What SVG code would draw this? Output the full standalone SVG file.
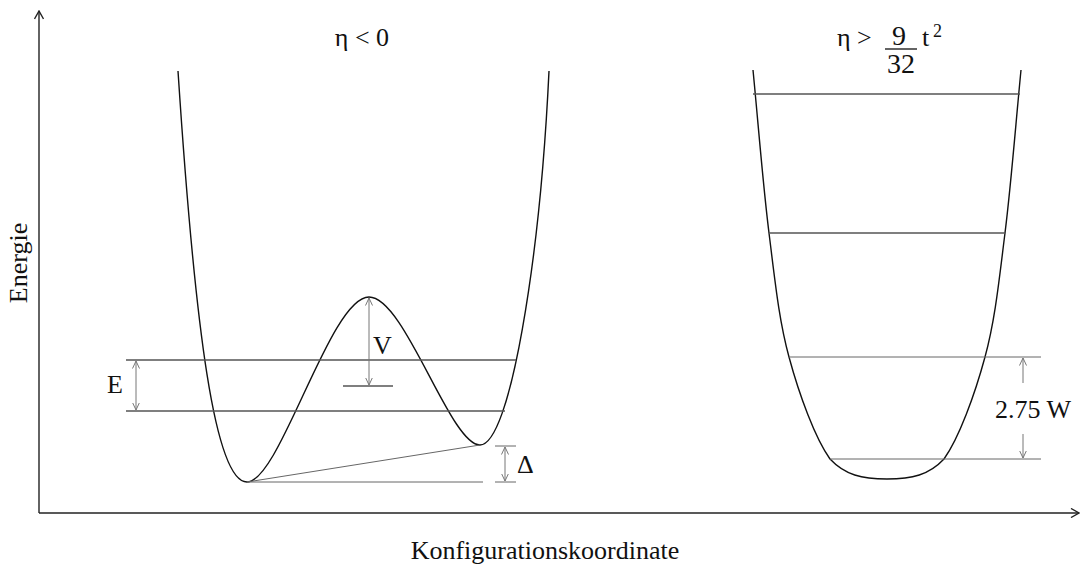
<svg xmlns="http://www.w3.org/2000/svg" width="1081" height="569" viewBox="0 0 1081 569">
<style>
.t{font-family:"Liberation Serif","Times New Roman",serif;fill:#111;font-size:26px}
.curve{fill:none;stroke:#111;stroke-width:1.4}
.lvl{fill:none;stroke:#555;stroke-width:1.4}
.thin{fill:none;stroke:#666;stroke-width:1}
.dim{fill:none;stroke:#777;stroke-width:1;marker-start:url(#ah);marker-end:url(#ah)}
.dim1{fill:none;stroke:#777;stroke-width:1;marker-end:url(#ah)}
.axis{fill:none;stroke:#222;stroke-width:1.4}
</style>
<defs>
<marker id="ah" viewBox="0 0 8 8" refX="7.5" refY="4" markerWidth="8" markerHeight="8" markerUnits="userSpaceOnUse" orient="auto-start-reverse">
<path d="M0,0.5 L7.5,4 L0,7.5" fill="none" stroke="#777" stroke-width="1"/>
</marker>
<marker id="ax" viewBox="0 0 10 10" refX="9" refY="5" markerWidth="10" markerHeight="10" markerUnits="userSpaceOnUse" orient="auto">
<path d="M1,0.5 L9,5 L1,9.5" fill="none" stroke="#222" stroke-width="1.4"/>
</marker>
</defs>
<g id="axes">
<path class="axis" d="M39,513 L39,11" marker-end="url(#ax)"/>
<path class="axis" d="M39,513 L1079,513" marker-end="url(#ax)"/>
<text class="t" transform="translate(27,263) rotate(-90)" text-anchor="middle">Energie</text>
<text class="t" x="545" y="559" text-anchor="middle">Konfigurationskoordinate</text>
</g>
<g id="left-well">
<path class="curve" d="M178,71 C195,330 215,482 247,482 C280,482 330,297 369,297 C405,297 450,445 480,445 C510,445 540,260 549,71"/>
<text class="t" x="362" y="46" text-anchor="middle">η &lt; 0</text>
</g>
<g id="right-well">
<path class="curve" d="M753,70 C758.3,124.3 763,185.2 769,233 C775,280.8 778.8,319.3 789,357 C799.2,394.7 815,438 830,459 C845,475 862,479 887,479 C912,479 929,475 944,459 C959,438 974.8,394.7 985,357 C995.2,319.3 999,280.8 1005,233 C1011,185.2 1015.7,124.3 1021,70"/>
<text class="t" x="837" y="46">η &gt;</text>
<text class="t" x="899" y="45" text-anchor="middle" style="font-size:28px">9</text>
<text class="t" x="901" y="73" text-anchor="middle" style="font-size:28px">32</text>
<line class="axis" x1="885" y1="49" x2="917" y2="49"/>
<text class="t" x="922" y="46">t</text>
<text class="t" x="933" y="37" style="font-size:18px">2</text>
</g>
<g id="levels-left">
<line class="lvl" x1="126" y1="360" x2="516" y2="360"/>
<line class="lvl" x1="126" y1="411" x2="505" y2="411"/>
<line class="lvl" x1="343" y1="386" x2="393" y2="386"/>
<line class="thin" x1="247" y1="482" x2="483" y2="482"/>
<line class="thin" x1="247" y1="482" x2="480" y2="445"/>
<line class="thin" x1="495" y1="446" x2="516" y2="446"/>
<line class="thin" x1="495" y1="482" x2="516" y2="482"/>
</g>
<g id="levels-right">
<line class="lvl" x1="753" y1="94" x2="1020" y2="94"/>
<line class="lvl" x1="769" y1="233" x2="1005" y2="233"/>
<line class="thin" x1="789" y1="357" x2="1041" y2="357"/>
<line class="thin" x1="830" y1="459" x2="1041" y2="459"/>
</g>
<g id="connectors">
<line class="dim" x1="136" y1="361" x2="136" y2="410"/>
<line class="dim" x1="369" y1="298" x2="369" y2="385"/>
<line class="dim" x1="505" y1="447" x2="505" y2="481"/>
<line class="dim1" x1="1023" y1="383" x2="1023" y2="358"/>
<line class="dim1" x1="1023" y1="434" x2="1023" y2="458"/>
</g>
<g id="labels">
<text class="t" x="107" y="393">E</text>
<text class="t" x="373" y="354">V</text>
<text class="t" x="517" y="473">Δ</text>
<text class="t" x="995" y="418">2.75 W</text>
</g>
</svg>
